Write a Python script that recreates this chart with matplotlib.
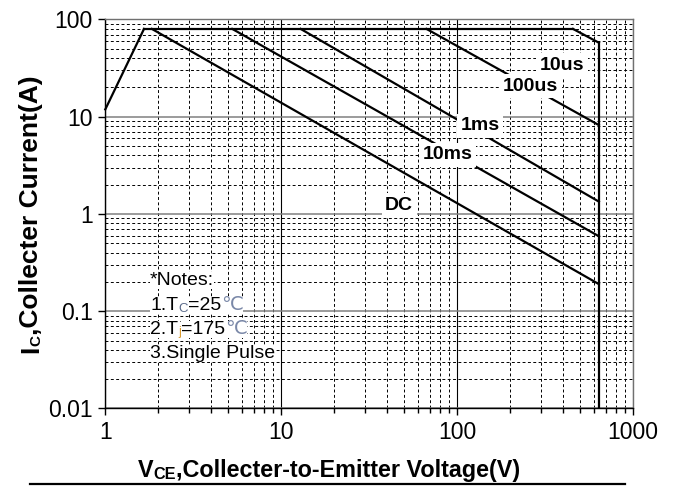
import numpy as np
import matplotlib
matplotlib.use("Agg")
import matplotlib.pyplot as plt
from matplotlib.lines import Line2D
from matplotlib.ticker import FixedLocator, FixedFormatter, LogLocator, NullFormatter

plt.rcParams['font.family'] = ['Liberation Sans', 'DejaVu Sans']

# --- values ---
I_MAX = 80.0          # collector current limit (A)
V_MAX = 640.0         # voltage limit (V)
I_FLOOR = 0.01

rise_v = [1.0, 1.66]  # rising part at low voltage
rise_i = [11.9, I_MAX]
limit_v = [1.66, 456.0]   # flat current-limit segment

pulse_labels = ['DC', '10ms', '1ms', '100us', '10us']
pulse_v_start = [1.84, 5.27, 12.9, 67.0, 456.0]   # where each curve leaves the 80 A line
pulse_i_end = [0.19, 0.59, 1.34, 8.2, 57.7]       # current at V_MAX
label_v = [46.9, 88.0, 135.0, 262.0, 396.0]
label_i = [1.235, 4.08, 8.1, 20.7, 34.0]

x_ticks = [1, 10, 100, 1000]
x_ticklabels = ['1', '10', '100', '1000']
y_ticks = [0.01, 0.1, 1, 10, 100]
y_ticklabels = ['0.01', '0.1', '1', '10', '100']

W, H = 678, 486
fig = plt.figure(figsize=(W / 100, H / 100), dpi=100)
ax = fig.add_axes([0.1553, 0.1595, 0.7783, 0.8004])
ax.set_xscale('log')
ax.set_yscale('log')
ax.set_xlim(1, 1000)
ax.set_ylim(0.01, 100)

# grid
ax.xaxis.set_minor_locator(LogLocator(base=10, subs=np.arange(2, 10)))
ax.yaxis.set_minor_locator(LogLocator(base=10, subs=np.arange(2, 10)))
ax.xaxis.set_minor_formatter(NullFormatter())
ax.yaxis.set_minor_formatter(NullFormatter())
ax.grid(which='minor', color='black', lw=0.7, ls=(0, (3, 2.5)), zorder=1)
ax.grid(which='major', axis='x', color='black', lw=0.8, zorder=1)
ax.grid(which='major', axis='y', color='#808080', lw=1.1, zorder=1)
ax.set_axisbelow(True)

ax.xaxis.set_major_locator(FixedLocator(x_ticks))
ax.xaxis.set_major_formatter(FixedFormatter(x_ticklabels))
ax.yaxis.set_major_locator(FixedLocator(y_ticks))
ax.yaxis.set_major_formatter(FixedFormatter(y_ticklabels))
ax.tick_params(which='major', direction='out', length=5, width=1, labelsize=16.5, pad=4)
ax.tick_params(axis='x', which='minor', direction='out', length=3.5, width=1)
ax.tick_params(axis='y', which='minor', length=0)

for side in ['top', 'right']:
    ax.spines[side].set_color('#707070')
for side in ['left', 'bottom']:
    ax.spines[side].set_color('black')
for sp in ax.spines.values():
    sp.set_linewidth(1)

lw = 1.6
ax.plot(rise_v, rise_i, color='black', lw=lw, zorder=3, clip_on=False)
ax.plot(limit_v, [I_MAX, I_MAX], color='black', lw=lw, zorder=3)
for v0, i1 in zip(pulse_v_start, pulse_i_end):
    ax.plot([v0, V_MAX], [I_MAX, i1], color='black', lw=lw, zorder=3)
ax.plot([V_MAX, V_MAX], [pulse_i_end[-1], I_FLOOR], color='black', lw=lw, zorder=3)

for lab, lv, li in zip(pulse_labels, label_v, label_i):
    ax.text(lv, li, lab, ha='center', va='center', fontsize=14, fontweight='bold',
            zorder=5, bbox=dict(fc='white', ec='none', pad=2.5))


# texts built piece by piece so subscripts sit on the baseline and get their own colours
def chain(parts, x, y, rot=0, weight='normal', bg=None):
    prev = None
    for s, color, fs in parts:
        kw = dict(color=color, fontsize=fs, zorder=6, fontweight=weight, rotation=rot)
        if bg:
            kw['bbox'] = dict(fc=bg, ec='none', pad=0)
        if prev is None:
            if rot:
                prev = fig.text(x, y, s, ha='right', va='bottom', **kw)
            else:
                prev = fig.text(x, y, s, ha='left', va='baseline', **kw)
        elif rot:
            # rotated 90 deg: next piece goes on top of the previous one
            prev = ax.annotate(s, xy=(1, 1), xycoords=prev, ha='right', va='bottom',
                               annotation_clip=False, **kw)
        else:
            prev = ax.annotate(s, xy=(1, 0), xycoords=prev, ha='left', va='bottom',
                               annotation_clip=False, **kw)
    return prev


nfs = 14
sfs = 9.5
deg = '#7a88a8'
notes_x = 150 / W
chain([('*Notes:', 'black', nfs)], notes_x, 1 - 285 / H, bg='white')
chain([('1.T', 'black', nfs), ('C', '#5a6a8a', sfs), ('=25', 'black', nfs), ('℃', deg, nfs)],
      notes_x, 1 - 310.5 / H, bg='white')
chain([('2.T', 'black', nfs), ('j', '#d89a30', sfs), ('=175', 'black', nfs), ('℃', deg, nfs)],
      notes_x, 1 - 334.5 / H, bg='white')
chain([('3.Single Pulse', 'black', nfs)], notes_x, 1 - 358 / H, bg='white')

# axis titles
chain([('I', 'black', 19), ('C', 'black', 11), (',Collecter Current(A)', 'black', 19)],
      43.5 / W, 1 - 353 / H, rot=90, weight='bold')
chain([('V', 'black', 16.8), ('CE', 'black', 11.7), (',Collecter-to-Emitter Voltage(V)', 'black', 16.8)],
      138 / W, 1 - 476.5 / H, weight='bold')

fig.add_artist(Line2D([30 / W, 625 / W], [1 - 483.5 / H] * 2, color='black', lw=1.6))

fig.savefig('out.png', dpi=100)
